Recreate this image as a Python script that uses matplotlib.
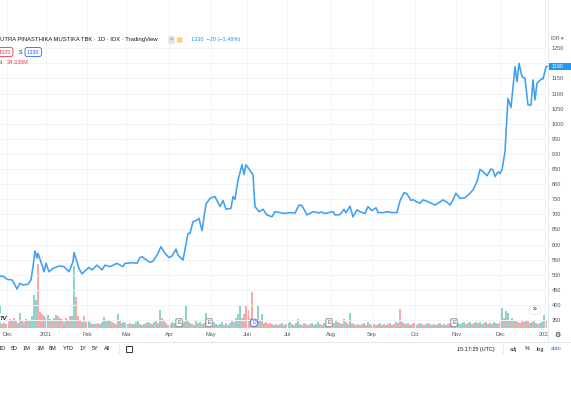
import matplotlib
matplotlib.use("Agg")
import matplotlib.pyplot as plt
import matplotlib.transforms as mtransforms
from matplotlib.patches import Rectangle, Circle
from matplotlib.lines import Line2D

plt.rcParams['font.family'] = ['Liberation Sans', 'DejaVu Sans']

# close price path, x = trading-day index
days = [0, 2, 3.5, 6, 7.5, 8.5, 10, 11.5, 14, 15.5,
        16.5, 17.5, 18.5, 19, 21, 22, 23, 24.5, 26.5, 29.5,
        32, 34.5, 36.5, 37, 38.5, 39.5, 41, 43, 44.5, 46,
        48.5, 51, 52.5, 55, 58.5, 61.5, 62.5, 66, 68.5, 70,
        71, 73.5, 75, 76.5, 78.5, 80.5, 82.5, 84.5, 86, 88,
        89, 91.5, 94, 95, 96.5, 98.5, 99.5, 101, 103, 105,
        107.5, 110, 111.5, 113, 115.5, 116.5, 117.5, 119, 121, 122,
        123, 125.5, 126.5, 127.5, 129.5, 131.5, 133.5, 136, 137.5, 140,
        142.5, 145, 147.5, 149.5, 151, 153.5, 156.5, 159.5, 160.5, 162.5,
        166.5, 167.5, 170, 172, 173, 175, 176.5, 178.5, 180, 182.5,
        184, 186, 188, 189, 191.5, 194, 195.5, 198.5, 200, 202,
        203.5, 205.5, 206.5, 208.5, 210, 211.5, 214, 217.5, 219.5, 221.5,
        223.5, 225, 226.5, 228, 230, 232.5, 235, 236.5, 238.5, 240,
        241.5, 243.5, 245.5, 246.5, 247.5, 249, 250, 251, 252.5, 254,
        255.5, 257.5, 258.5, 259.5, 261, 262.5, 264, 265.5, 266.5, 267.5,
        268.5, 271, 271.5, 273, 274]
prices = [496, 494, 485, 483, 466, 453, 472, 466, 469, 483,
          527, 579, 555, 571, 532, 510, 538, 510, 521, 529,
          527, 510, 543, 574, 543, 521, 503, 516, 524, 516,
          532, 516, 532, 527, 538, 527, 538, 540, 538, 557,
          560, 548, 541, 545, 565, 593, 571, 557, 562, 585,
          565, 549, 637, 637, 676, 681, 687, 646, 734, 753,
          759, 726, 746, 717, 720, 759, 750, 813, 864, 832,
          864, 841, 831, 726, 709, 717, 698, 692, 709, 706,
          703, 706, 704, 731, 729, 698, 709, 705, 708, 703,
          709, 698, 699, 717, 705, 727, 692, 715, 709, 703,
          726, 712, 722, 706, 706, 709, 706, 706, 745, 772,
          768, 746, 749, 741, 737, 748, 742, 731, 739, 748,
          740, 731, 748, 770, 753, 755, 770, 781, 808, 849,
          842, 828, 850, 848, 825, 841, 835, 847, 908, 1084,
          1054, 1189, 1139, 1200, 1156, 1150, 1062, 1062, 1145, 1079,
          1134, 1150, 1148, 1189, 1190]

# daily volume (millions of shares) and bar direction (u = up, d = down)
volume = [60, 10, 13, 10, 16, 23, 21, 26, 18, 13,
          39, 21, 16, 23, 18, 21, 31, 88, 73, 169,
          42, 36, 31, 26, 34, 23, 21, 26, 34, 31,
          26, 23, 16, 26, 21, 31, 31, 164, 83, 31,
          21, 16, 31, 16, 21, 16, 10, 10, 10, 13,
          10, 16, 29, 18, 21, 18, 16, 13, 10, 36,
          18, 13, 16, 13, 10, 13, 10, 10, 16, 21,
          10, 8, 10, 13, 16, 13, 10, 16, 18, 13,
          47, 26, 18, 13, 8, 10, 16, 13, 10, 16,
          13, 10, 16, 60, 21, 13, 10, 8, 21, 13,
          16, 10, 13, 39, 13, 10, 8, 16, 10, 8,
          10, 16, 8, 13, 8, 13, 21, 16, 26, 36,
          60, 26, 36, 60, 47, 26, 94, 21, 16, 60,
          21, 36, 13, 16, 10, 13, 10, 8, 10, 8,
          10, 13, 8, 10, 13, 16, 10, 8, 13, 23,
          10, 8, 13, 10, 8, 10, 13, 8, 10, 16,
          10, 8, 13, 10, 13, 16, 10, 13, 21, 16,
          13, 10, 23, 16, 10, 39, 13, 10, 8, 10,
          8, 10, 13, 8, 16, 10, 8, 10, 8, 10,
          13, 8, 10, 8, 10, 13, 8, 10, 16, 13,
          50, 16, 13, 10, 13, 8, 10, 13, 8, 10,
          13, 10, 8, 10, 13, 10, 8, 10, 8, 10,
          13, 8, 10, 8, 10, 13, 10, 8, 10, 13,
          10, 13, 16, 10, 13, 16, 10, 13, 16, 13,
          16, 10, 13, 16, 10, 13, 10, 16, 13, 10,
          16, 52, 26, 44, 39, 21, 26, 18, 21, 16,
          13, 18, 16, 21, 18, 13, 16, 18, 13, 10,
          13, 16, 34.3, 21]
vol_dir = ("ududdduddu" "udduduuuud" "ddududdudu" "ddududuudd" "dudduududd"
           "uuuudududu" "duudduduuu" "duududuudu" "uddudduudu" "uduududuud"
           "uududdduud" "uuduuuuduu" "uddddddudu" "dudddduddu" "duuduuduuu"
           "dududuuduu" "duududduud" "ududdududd" "ududududdu" "dudududdud"
           "dudududdud" "uddududuud" "ududduuduu" "uuuduuduud" "uudududuud"
           "uuduududud" "ddudduduud" "uuud")

month_pos = [3.5, 23, 43.5, 63, 84.5, 105.5, 123.5, 143.5, 165.5, 186, 207.5, 228, 250, 272.5]
month_labels = ["Dec", "2021", "Feb", "Mar", "Apr", "May", "Jun", "Jul",
                "Aug", "Sep", "Oct", "Nov", "Dec", "2022"]
price_ticks = list(range(350, 1300, 50))

event_days = [89.5, 104.5, 127, 164.5, 227]
event_kinds = ["E", "E", "D", "E", "E"]
last_price = 1190

W, H = 571, 399
fig = plt.figure(figsize=(W / 100, H / 100), dpi=100)


def fx(px):
    return px / W


def fy(py):
    return 1 - py / H


UP = '#92d2cc'
DN = '#f7a9a7'
LINE = '#3f9ff2'
TXT = '#50535e'
GRID = '#f0f3fa'

rect = [0, fy(328), fx(548), 328 / H]
vax = fig.add_axes(rect, zorder=1)
ax = fig.add_axes(rect, zorder=2)
ax.patch.set_visible(False)

n = min(len(volume), len(vol_dir))
vax.bar(range(n), volume[:n], width=0.7,
        color=[UP if c == 'u' else DN for c in vol_dir[:n]], linewidth=0)
vax.set_xlim(0, 274)
vax.set_ylim(0, 866)
vax.axis('off')

ax.plot(days, prices, color=LINE, lw=1.15, solid_joinstyle='round')
ax.set_xlim(0, 274)
ax.set_ylim(323.8, 1409.9)
ax.set_xticks(month_pos, month_labels)
# the 1200 label sits under the last-price tag
ax.set_yticks(price_ticks, ['' if abs(t - last_price) < 25 else str(t) for t in price_ticks])
ax.yaxis.tick_right()
ax.grid(color=GRID, lw=0.7)
for s in ax.spines.values():
    s.set_visible(False)
ax.tick_params(axis='y', length=0, pad=2.6, labelsize=4, labelcolor=TXT)
ax.tick_params(axis='x', length=0, pad=3.2, labelsize=4, labelcolor=TXT)

# earnings / dividend markers
evt = mtransforms.blended_transform_factory(ax.transData, ax.transAxes)
for d, k in zip(event_days, event_kinds):
    if k == 'D':
        ax.text(d, 0.016, k, transform=evt, ha='center', va='center', fontsize=3.6,
                color='#2962ff', bbox=dict(boxstyle='circle,pad=0.25', fc='white', ec='#2962ff', lw=0.6))
    else:
        ax.text(d, 0.016, k, transform=evt, ha='center', va='center', fontsize=3.6,
                color='#50535e', bbox=dict(boxstyle='round,pad=0.3,rounding_size=0.2',
                                           fc='white', ec='#787b86', lw=0.6))

# cover right of the time scale
fig.add_artist(Rectangle((fx(548), 0), 1 - fx(548), fy(328), transform=fig.transFigure,
                         fc='white', ec='none', zorder=5))
# separators
fig.add_artist(Line2D([fx(548), fx(548)], [fy(0), fy(342)], color='#e0e3eb', lw=0.6, zorder=6))
fig.add_artist(Line2D([0, 1], [fy(342), fy(342)], color='#e0e3eb', lw=0.6, zorder=6))
fig.add_artist(Line2D([fx(119), fx(119)], [fy(345), fy(353)], color='#e0e3eb', lw=0.6, zorder=6))
fig.add_artist(Line2D([fx(503), fx(503)], [fy(345), fy(353)], color='#e0e3eb', lw=0.6, zorder=6))

# last price tag
ptr = mtransforms.blended_transform_factory(fig.transFigure, ax.transData)
fig.add_artist(Rectangle((fx(549), last_price - 12), 1 - fx(549), 24, transform=ptr,
                         fc='#2196f3', ec='none', zorder=6))
fig.text(fx(552), last_price, str(last_price), transform=ptr, ha='left', va='center',
         fontsize=4, color='white', zorder=7)
fig.text(fx(551), fy(38), 'IDR ▾', fontsize=3.6, color=TXT, va='center', zorder=7)

# header
fig.text(0, fy(40), 'UTRA PINASTHIKA MUSTIKA TBK · 1D · IDX · TradingView',
         fontsize=4.2, color='#131722', va='center', zorder=7)
fig.text(fx(170), fy(40), '=', fontsize=4, color='#787b86', va='center', zorder=7,
         bbox=dict(boxstyle='round,pad=0.3', fc='#e0e3eb', ec='none'))
fig.text(fx(178), fy(40), 'D', fontsize=3.6, color='#ff9800', va='center', zorder=7,
         bbox=dict(boxstyle='circle,pad=0.15', fc='#ffe0b2', ec='none'))
fig.text(fx(191), fy(40), '1330  −20 (−1.48%)', fontsize=4, color='#2196f3',
         va='center', zorder=7)
fig.text(fx(11), fy(52), '1325', fontsize=4, color='#f23645', ha='right', va='center', zorder=7,
         bbox=dict(boxstyle='round,pad=0.35', fc='white', ec='#f23645', lw=0.6))
fig.text(fx(19), fy(52), 'S', fontsize=4, color='#131722', va='center', zorder=7)
fig.text(fx(27), fy(52), '1330', fontsize=4, color='#2962ff', va='center', zorder=7,
         bbox=dict(boxstyle='round,pad=0.35', fc='white', ec='#2962ff', lw=0.6))
fig.text(fx(3), fy(63), 'Vol', fontsize=4, color='#131722', ha='right', va='center', zorder=7)
fig.text(fx(7), fy(63), '34.335M', fontsize=4, color='#f23645', va='center', zorder=7)

# TV logo and scroll button
fig.add_artist(Circle((fx(1), fy(318)), 6.5 / W, transform=fig.transFigure,
                      fc='white', ec='#e0e3eb', lw=0.5, zorder=6))
fig.text(fx(0), fy(318), 'TV', fontsize=4.2, fontweight='bold', style='italic',
         color='#131722', va='center', zorder=7)
fig.add_artist(Circle((fx(535), fy(310)), 6.5 / W, transform=fig.transFigure,
                      fc='white', ec='#e0e3eb', lw=0.5, zorder=6))
fig.text(fx(535), fy(310), '»', fontsize=5, color='#131722', ha='center', va='center', zorder=7)
fig.text(fx(557), fy(335), '⚙', fontsize=5, color='#131722', ha='center', va='center', zorder=7)

# bottom toolbar
for lab, x in zip(["1D", "5D", "1M", "3M", "6M", "YTD", "1Y", "5Y", "All"],
                  [2, 14, 27, 41, 53, 68, 83, 95, 107]):
    fig.text(fx(x), fy(349), lab, fontsize=4, color='#131722', ha='center', va='center', zorder=7)
fig.add_artist(Rectangle((fx(126), fy(352)), 6 / W, 6 / H, transform=fig.transFigure,
                         fc='none', ec='#131722', lw=0.6, zorder=7))
fig.text(fx(476), fy(349), '15:17:25 (UTC)', fontsize=4, color='#131722', ha='center',
         va='center', zorder=7)
for lab, x, c in [("adj", 513, '#131722'), ("%", 527, '#131722'),
                  ("log", 540, '#131722'), ("auto", 556, '#2962ff')]:
    fig.text(fx(x), fy(349), lab, fontsize=4, color=c, ha='center', va='center', zorder=7)

fig.savefig('out.png', dpi=100)
